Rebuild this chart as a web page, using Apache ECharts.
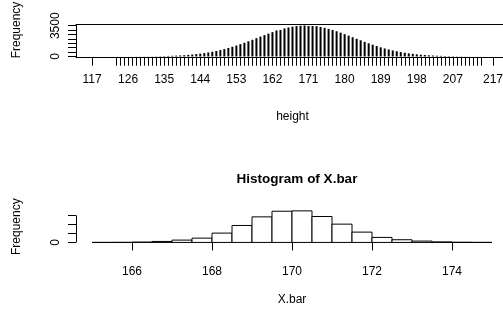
<!DOCTYPE html>
<html>
<head>
<meta charset="utf-8">
<script src="https://cdn.jsdelivr.net/npm/echarts@6/dist/echarts.min.js"></script>
<style>
html, body { margin: 0; padding: 0; background: #fff; }
#main { width: 503px; height: 311px; }
</style>
</head>
<body>
<div id="main"></div>
<script>
// top panel: frequency table of height (type = "h")
var heightValues = [117,
  123, 124, 125, 126, 127, 128, 129, 130, 131, 132, 133, 134, 135, 136, 137, 138, 139, 140,
  141, 142, 143, 144, 145, 146, 147, 148, 149, 150, 151, 152, 153, 154, 155, 156, 157, 158,
  159, 160, 161, 162, 163, 164, 165, 166, 167, 168, 169, 170, 171, 172, 173, 174, 175, 176,
  177, 178, 179, 180, 181, 182, 183, 184, 185, 186, 187, 188, 189, 190, 191, 192, 193, 194,
  195, 196, 197, 198, 199, 200, 201, 202, 203, 204, 205, 206, 207, 208, 209, 210, 211, 212,
  213, 214, 217];
var heightCounts = [1,
  1, 2, 3, 4, 5, 7, 9, 13, 17, 22, 28, 36, 47, 59, 75, 94, 117, 145,
  180, 220, 265, 320, 380, 455, 535, 625, 730, 840, 965, 1100, 1245, 1400, 1560, 1730, 1900, 2080,
  2260, 2430, 2600, 2770, 2960, 3010, 3190, 3300, 3390, 3460, 3500, 3520, 3470, 3470, 3450, 3360, 3260, 3140,
  3010, 2870, 2710, 2540, 2370, 2190, 2010, 1840, 1660, 1500, 1340, 1190, 1040, 910, 795, 685, 590, 500,
  425, 355, 295, 245, 200, 165, 133, 107, 86, 68, 54, 42, 33, 25, 19, 15, 11, 8,
  6, 5, 1];
var heightTickLabels = [117, 126, 135, 144, 153, 162, 171, 180, 189, 198, 207, 217];
var topFreqTicks = [0, 500, 1000, 1500, 2000, 2500, 3000, 3500];
var topFreqLabels = [0, 3500];

// bottom panel: histogram of X.bar
var binStarts = [165, 165.5, 166, 166.5, 167, 167.5, 168, 168.5, 169, 169.5,
  170, 170.5, 171, 171.5, 172, 172.5, 173, 173.5, 174, 174.5];
var binWidth = 0.5;
var binCounts = [1, 5, 20, 55, 130, 240, 520, 945, 1425, 1740,
  1760, 1445, 1020, 575, 280, 150, 75, 30, 10, 3];
var xbarTicks = [166, 168, 170, 172, 174];
var bottomFreqTicks = [0, 500, 1000, 1500];
var bottomFreqLabels = [0];

var FONT = 'Liberation Sans';
var topPeak = Math.max.apply(null, heightCounts);
var botPeak = Math.max.apply(null, binCounts);
var TXT = { fontSize: 12, color: '#000', fontFamily: FONT };

function plain(v) { return String(v); }

var chart = echarts.init(document.getElementById('main'));

var option = {
  animation: false,
  backgroundColor: '#fff',
  textStyle: { fontFamily: FONT },
  title: {
    text: 'Histogram of X.bar',
    left: 292,
    top: 167,
    textAlign: 'center',
    textStyle: { fontFamily: FONT, fontSize: 13.5, fontWeight: 'bold', color: '#000' }
  },
  grid: [{
    left: 76, top: 24.3, width: 433, height: 33.4,
    show: false, outerBoundsMode: 'none'
  }, {
    left: 76, top: 209.6, width: 432, height: 34.1,
    show: false, outerBoundsMode: 'none'
  }],
  xAxis: [{
    gridIndex: 0,
    type: 'value',
    min: 113, max: 221,
    splitLine: { show: false },
    axisLine: { show: true, onZero: false, lineStyle: { color: '#000', width: 1 } },
    axisTick: { show: true, length: 8, customValues: heightValues, lineStyle: { color: '#000', width: 1 } },
    axisLabel: Object.assign({ customValues: heightTickLabels, margin: 16, formatter: plain }, TXT),
    name: 'height',
    nameLocation: 'middle',
    nameGap: 53,
    nameTextStyle: TXT
  }, {
    // top edge of the box
    gridIndex: 0,
    type: 'value',
    position: 'top',
    min: 113, max: 221,
    splitLine: { show: false },
    axisLine: { show: true, onZero: false, lineStyle: { color: '#000', width: 1 } },
    axisTick: { show: false },
    axisLabel: { show: false }
  }, {
    gridIndex: 1,
    type: 'value',
    min: 164.6, max: 175.4,
    splitLine: { show: false },
    axisLine: { show: false },
    axisTick: { show: true, length: 8, customValues: xbarTicks, lineStyle: { color: '#000', width: 1 } },
    axisLabel: Object.assign({ customValues: xbarTicks, margin: 22, formatter: plain }, TXT),
    name: 'X.bar',
    nameLocation: 'middle',
    nameGap: 50,
    nameTextStyle: TXT
  }],
  yAxis: [{
    gridIndex: 0,
    type: 'value',
    min: -0.04 * topPeak, max: 1.04 * topPeak,
    splitLine: { show: false },
    axisLine: { show: true, onZero: false, lineStyle: { color: '#000', width: 1 } },
    axisTick: { show: true, length: 8, customValues: topFreqTicks, lineStyle: { color: '#000', width: 1 } },
    axisLabel: Object.assign({ customValues: topFreqLabels, rotate: 90, margin: 14, formatter: plain }, TXT),
    name: 'Frequency',
    nameLocation: 'middle',
    nameRotate: 90,
    nameGap: 53,
    nameTextStyle: Object.assign({ padding: [0, 0, 0, 22] }, TXT)
  }, {
    gridIndex: 1,
    type: 'value',
    min: -0.04 * botPeak, max: 1.04 * botPeak,
    splitLine: { show: false },
    axisLine: { show: false },
    axisTick: { show: true, length: 8, customValues: bottomFreqTicks, lineStyle: { color: '#000', width: 1 } },
    axisLabel: Object.assign({ customValues: bottomFreqLabels, rotate: 90, margin: 14, formatter: plain }, TXT),
    name: 'Frequency',
    nameLocation: 'middle',
    nameRotate: 90,
    nameGap: 53,
    nameTextStyle: TXT
  }],
  series: [{
    type: 'custom',
    xAxisIndex: 0,
    yAxisIndex: 0,
    clip: false,
    data: heightValues.map(function (v, i) { return [v, heightCounts[i]]; }),
    renderItem: function (params, api) {
      var p0 = api.coord([api.value(0), 0]);
      var p1 = api.coord([api.value(0), api.value(1)]);
      return {
        type: 'line',
        shape: { x1: p0[0], y1: p0[1], x2: p1[0], y2: p1[1] },
        style: { stroke: '#000', lineWidth: 2 }
      };
    }
  }, {
    type: 'custom',
    xAxisIndex: 2,
    yAxisIndex: 1,
    clip: false,
    data: binStarts.map(function (s, i) { return [s, s + binWidth, binCounts[i]]; }),
    renderItem: function (params, api) {
      var p0 = api.coord([api.value(0), api.value(2)]);
      var p1 = api.coord([api.value(1), 0]);
      return {
        type: 'rect',
        shape: { x: p0[0], y: p0[1], width: p1[0] - p0[0], height: p1[1] - p0[1] },
        style: { fill: '#fff', stroke: '#000', lineWidth: 1 }
      };
    },
    // y axis line runs only over the tick range, as in R
    markLine: {
      silent: true,
      symbol: 'none',
      label: { show: false },
      lineStyle: { color: '#000', width: 1, type: 'solid' },
      data: [[{ coord: [164.6, bottomFreqTicks[0]] },
              { coord: [164.6, bottomFreqTicks[bottomFreqTicks.length - 1]] }]]
    }
  }]
};

chart.setOption(option);
</script>
</body>
</html>
